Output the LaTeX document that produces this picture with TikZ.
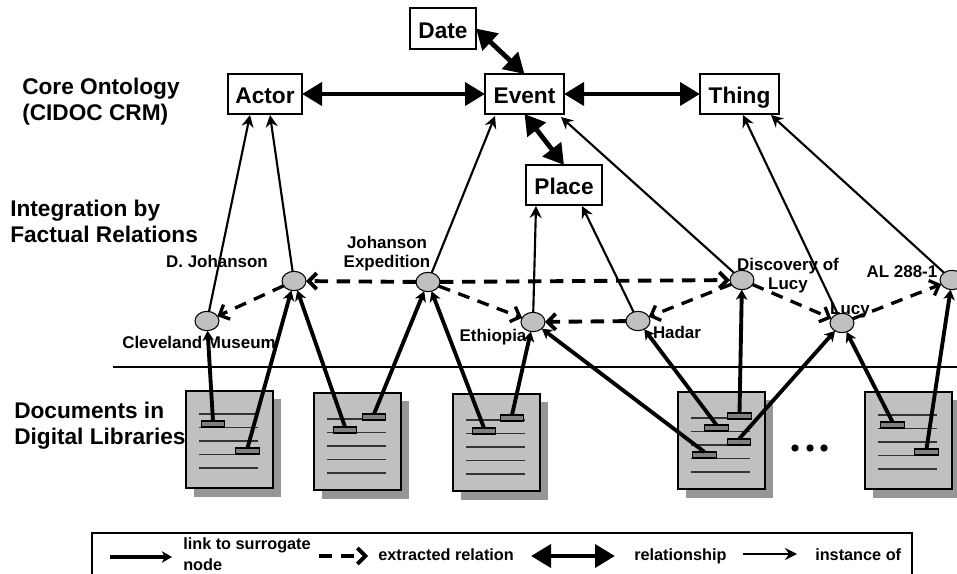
\documentclass[tikz,border=0pt]{standalone}
\usepackage{fontspec}
\setmainfont{Liberation Sans}
\usetikzlibrary{arrows.meta,shapes.geometric}
\definecolor{pagefill}{HTML}{C0C0C0}
\definecolor{pageshade}{HTML}{969696}
\definecolor{anchorfill}{HTML}{808080}
\tikzset{
  concept/.style={draw=black,line width=0.9pt,fill=white,inner sep=0pt,outer sep=0pt,text height=14.5pt,text depth=0pt,font=\fontsize{17pt}{18pt}\selectfont\bfseries},
  inst/.style={draw=black,fill=pagefill,ellipse,line width=0.8pt,minimum width=18pt,minimum height=14.5pt,inner sep=0pt,outer sep=0pt},
  headline/.style={font=\fontsize{17pt}{19.5pt}\selectfont\bfseries,align=left,inner sep=0pt},
  tag/.style={font=\fontsize{12.7pt}{14.4pt}\selectfont\bfseries,align=center,inner sep=0pt},
  keytext/.style={font=\fontsize{12.2pt}{15.5pt}\selectfont\bfseries,align=left,inner sep=0pt},
  pagebox/.style={draw=black,fill=pagefill,line width=0.9pt,minimum width=65.25pt,minimum height=72.75pt,inner sep=0pt,outer sep=0pt},
  anchorbox/.style={draw=black,fill=anchorfill,line width=0.8pt,minimum width=17.5pt,minimum height=4.5pt,inner sep=0pt,outer sep=0pt},
  linkarrow/.style={line width=2.9pt,-{Stealth[length=7.5pt,width=8.5pt,inset=2pt]}},
  relarrow/.style={line width=2.9pt,dash pattern=on 10pt off 6.5pt,-{Straight Barb[length=6pt,width=12pt,line width=2.9pt]}},
  relthin/.style={line width=2.5pt,dash pattern=on 9pt off 6.5pt,-{Straight Barb[length=6pt,width=12pt,line width=2.5pt]}},
  bigarrow/.style={line width=3.6pt,{Triangle[length=15pt,width=17pt]}-{Triangle[length=15pt,width=17pt]}},
  instarrow/.style={line width=1.6pt,-{Stealth[length=9pt,width=9pt,inset=3pt]}},
  dotmark/.style={circle,fill=black,minimum size=5.5pt,inner sep=0pt}
}
\newcommand{\docpage}[4]{%
  \fill[pageshade] (#2+8,#3+8) rectangle (#2+95,#3+106);
  \node[pagebox,anchor=north west] (#1) at (#2,#3) {};
  \foreach \k in {0,1,2,3,4}{
    \draw[line width=1pt,black!80] (#2+13,#3+#4+13.5*\k) -- (#2+72,#3+#4+13.5*\k);
  }
}
\begin{document}
\begin{tikzpicture}[x=0.75pt,y=-0.75pt]
\useasboundingbox (0,0) rectangle (957,574);
% headings
\node[headline,anchor=west] (h1) at (22,102) {Core Ontology\\(CIDOC CRM)};
\node[headline,anchor=west] (h2) at (10,221.5) {Integration by\\Factual Relations};
\node[headline,anchor=west] (h3) at (14,425.5) {Documents in\\Digital Libraries};
% separator
\coordinate (sepL) at (113,367);
\coordinate (sepR) at (957,367);
\draw[line width=0.8pt] (sepL) -- (sepR);
% concepts
\node[concept,minimum width=49.5pt,minimum height=30.75pt] (date) at (443,28.5) {Date};
\node[concept,minimum width=59.25pt,minimum height=30pt] (event) at (524.5,94) {Event};
\node[concept,minimum width=57pt,minimum height=30pt] (place) at (564,185) {Place};
\node[concept,minimum width=55.5pt,minimum height=30pt] (actor) at (265,94) {Actor};
\node[concept,minimum width=59.25pt,minimum height=30pt] (thing) at (739.5,94) {Thing};
% documents
\docpage{d1}{186}{391}{23}
\docpage{d2}{314}{393}{26}
\docpage{d3}{453}{394}{26}
\docpage{d4}{678}{392}{26}
\docpage{d5}{865}{392}{23}
% anchors
\node[anchorbox] (a1) at (213,424) {};
\node[anchorbox] (a2) at (247.5,451) {};
\node[anchorbox] (a3) at (345,430) {};
\node[anchorbox] (a4) at (374,417) {};
\node[anchorbox] (a5) at (484,431) {};
\node[anchorbox] (a6) at (512,418) {};
\node[anchorbox] (a7) at (739.5,416) {};
\node[anchorbox] (a8) at (716.5,428) {};
\node[anchorbox] (a9) at (739,442) {};
\node[anchorbox] (a10) at (704.5,455) {};
\node[anchorbox] (a11) at (892.5,425) {};
\node[anchorbox] (a12) at (926.5,452) {};
% labels
\node[tag] (t1) at (217,261) {D. Johanson};
\node[tag] (t2) at (199,342) {Cleveland Museum};
\node[tag] (t3) at (387,253.5) {Johanson\\Expedition};
\node[tag] (t4) at (493,337) {Ethiopia};
\node[tag] (t5) at (677,332) {Hadar};
\node[tag] (t6) at (788,275.5) {Discovery of\\Lucy};
\node[tag] (t7) at (850,310) {Lucy};
\node[tag] (t8) at (902,272) {AL 288-1};
% instances
\node[inst] (cle) at (207,321) {};
\node[inst] (joh) at (294,281) {};
\node[inst] (exp) at (428,282) {};
\node[inst] (eth) at (533,322) {};
\node[inst] (had) at (638,321) {};
\node[inst] (dis) at (742,280) {};
\node[inst] (luc) at (842,323) {};
\node[inst] (alx) at (952,280) {};
% free ends on the concept boxes
\coordinate (actorA) at (250,115);
\coordinate (actorB) at (270,115);
\coordinate (eventA) at (495,116);
\coordinate (eventB) at (561,117);
\coordinate (placeA) at (536,206);
\coordinate (placeB) at (582,206);
\coordinate (thingA) at (743,115);
\coordinate (thingB) at (771,115);
% instance of
\draw[instarrow] (cle) -- (actorA);
\draw[instarrow] (joh) -- (actorB);
\draw[instarrow] (exp) -- (eventA);
\draw[instarrow] (dis) -- (eventB);
\draw[instarrow] (eth) -- (placeA);
\draw[instarrow] (had) -- (placeB);
\draw[instarrow] (luc) -- (thingA);
\draw[instarrow] (alx) -- (thingB);
% relationships
\draw[bigarrow] (actor) -- (event);
\draw[bigarrow] (event) -- (thing);
\draw[bigarrow] (date.east) -- (event.north);
\draw[bigarrow] (event.south) -- (place.north);
% surrogate links
\draw[linkarrow] (a1.north) -- (cle);
\draw[linkarrow] (a2.north) -- (joh);
\draw[linkarrow] (a3.north) -- (joh);
\draw[linkarrow] (a4.north) -- (exp);
\draw[linkarrow] (a5.north) -- (exp);
\draw[linkarrow] (a6.north) -- (eth);
\draw[linkarrow] (a10.north) -- (eth);
\draw[linkarrow] (a8.north) -- (had);
\draw[linkarrow] (a7.north) -- (dis);
\draw[linkarrow] (a9.north) -- (luc);
\draw[linkarrow] (a11.north) -- (luc);
\draw[linkarrow] (a12.north) -- (alx);
% extracted relations
\draw[relarrow] (exp) -- (joh);
\draw[relthin] (joh) -- (cle);
\draw[relarrow] (exp) -- (dis);
\draw[relthin] (exp) -- (eth);
\draw[relarrow] (had) -- (eth);
\draw[relthin] (dis) -- (had);
\draw[relthin] (dis) -- (luc);
\draw[relthin] (luc) -- (alx);
% dots
\node[dotmark] (m1) at (795,448) {};
\node[dotmark] (m2) at (810,448) {};
\node[dotmark] (m3) at (824,448) {};
% legend
\coordinate (lgA) at (92,574);
\coordinate (lgB) at (92,533);
\coordinate (lgC) at (912,533);
\coordinate (lgD) at (912,574);
\draw[line width=0.8pt] (lgA) -- (lgB) -- (lgC) -- (lgD);
\coordinate (k1a) at (110,557); \coordinate (k1b) at (172,557);
\coordinate (k2a) at (319,556); \coordinate (k2b) at (368,556);
\coordinate (k3a) at (531,556); \coordinate (k3b) at (615,556);
\coordinate (k4a) at (743,554); \coordinate (k4b) at (797,554);
\draw[linkarrow] (k1a) -- (k1b);
\draw[relarrow] (k2a) -- (k2b);
\draw[bigarrow] (k3a) -- (k3b);
\draw[instarrow] (k4a) -- (k4b);
\node[keytext,anchor=west] (kt1) at (183,554) {link to surrogate\\node};
\node[keytext,anchor=west] (kt2) at (378,555) {extracted relation};
\node[keytext,anchor=west] (kt3) at (634,556.5) {relationship};
\node[keytext,anchor=west] (kt4) at (815,555) {instance of};
\end{tikzpicture}
\end{document}
